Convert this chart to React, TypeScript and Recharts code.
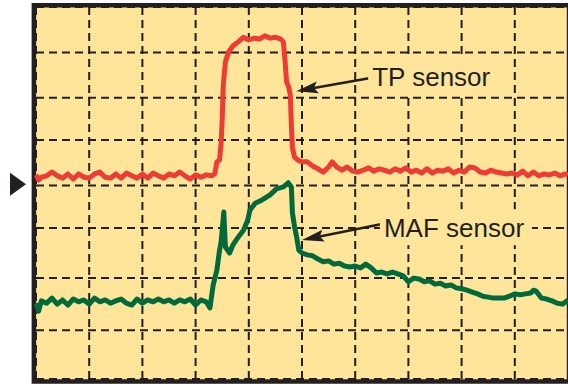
import { LineChart, Line, XAxis, YAxis, CartesianGrid, ReferenceArea, ReferenceLine, ReferenceDot } from 'recharts';

// scope screen: 10 time divisions across, 8 divisions up
const X_TICKS = [1, 2, 3, 4, 5, 6, 7, 8, 9];
const Y_TICKS = [1.05, 2.17, 3.25, 4.16, 5.14, 6.05, 7.02];

const RED_T = [
  0, 0.05, 0.1, 0.2, 0.3, 0.4, 0.5, 0.6, 0.7, 0.8, 0.9, 1.0, 1.1, 1.2, 1.3, 1.4, 1.5, 1.6, 1.7, 1.8, 1.9,
  2.0, 2.1, 2.2, 2.3, 2.4, 2.5, 2.6, 2.7, 2.8, 2.9, 3.0, 3.1, 3.2, 3.3, 3.36, 3.4, 3.45, 3.48, 3.5, 3.52,
  3.56, 3.62, 3.7, 3.8, 3.9, 4.0, 4.1, 4.2, 4.3, 4.4, 4.5, 4.6, 4.65, 4.68, 4.71, 4.75, 4.78, 4.8, 4.82,
  4.86, 4.92, 5.0, 5.1, 5.2, 5.3, 5.4, 5.5, 5.57, 5.65, 5.75, 5.85, 5.95, 6.05, 6.15, 6.25, 6.35, 6.45,
  6.55, 6.65, 6.75, 6.85, 6.95, 7.05, 7.15, 7.25, 7.35, 7.45, 7.55, 7.65, 7.75, 7.85, 7.95, 8.05, 8.15,
  8.25, 8.35, 8.45, 8.55, 8.65, 8.75, 8.85, 8.95, 9.05, 9.15, 9.25, 9.35, 9.45, 9.55, 9.65, 9.75, 9.85,
  9.95, 10.0,
];
const RED_V = [
  4.39, 4.28, 4.34, 4.37, 4.45, 4.37, 4.32, 4.41, 4.30, 4.41, 4.34, 4.32, 4.41, 4.45, 4.34, 4.32, 4.41, 4.32, 4.43, 4.37, 4.32,
  4.41, 4.32, 4.43, 4.37, 4.32, 4.41, 4.37, 4.45, 4.37, 4.30, 4.39, 4.34, 4.39, 4.37, 4.41, 4.67, 4.71, 5.08, 5.57, 6.32,
  6.82, 7.03, 7.16, 7.25, 7.35, 7.29, 7.33, 7.31, 7.38, 7.33, 7.35, 7.31, 7.25, 6.86, 6.39, 6.28, 6.11, 5.46, 4.97,
  4.77, 4.71, 4.67, 4.67, 4.58, 4.52, 4.45, 4.56, 4.67, 4.56, 4.49, 4.56, 4.47, 4.45, 4.49, 4.54, 4.47, 4.52,
  4.49, 4.45, 4.52, 4.47, 4.54, 4.45, 4.49, 4.43, 4.52, 4.43, 4.49, 4.47, 4.52, 4.43, 4.49, 4.45, 4.56,
  4.54, 4.45, 4.43, 4.49, 4.45, 4.43, 4.41, 4.43, 4.39, 4.47, 4.37, 4.45, 4.37, 4.41, 4.39, 4.43, 4.37,
  4.41, 4.39,
];

const GREEN_T = [
  0, 0.05, 0.1, 0.2, 0.3, 0.4, 0.5, 0.6, 0.7, 0.8, 0.9, 1.0, 1.1, 1.2, 1.3, 1.4, 1.5, 1.6, 1.7, 1.8, 1.9,
  2.0, 2.1, 2.2, 2.3, 2.4, 2.5, 2.6, 2.7, 2.8, 2.9, 3.0, 3.1, 3.2, 3.27, 3.33, 3.4, 3.45, 3.48, 3.53, 3.56,
  3.64, 3.7, 3.8, 3.9, 3.98, 4.02, 4.12, 4.25, 4.4, 4.52, 4.65, 4.74, 4.8, 4.82, 4.86, 4.9, 4.94, 5.0,
  5.1, 5.2, 5.3, 5.4, 5.5, 5.6, 5.7, 5.8, 5.9, 6.0, 6.1, 6.2, 6.3, 6.4, 6.5, 6.6, 6.7, 6.8, 6.9, 7.0,
  7.1, 7.2, 7.3, 7.4, 7.5, 7.6, 7.7, 7.8, 7.9, 8.0, 8.1, 8.2, 8.3, 8.4, 8.5, 8.6, 8.7, 8.8, 8.9, 9.0,
  9.1, 9.2, 9.3, 9.35, 9.4, 9.5, 9.6, 9.7, 9.8, 9.9, 10.0,
];
const GREEN_V = [
  1.63, 1.46, 1.68, 1.63, 1.74, 1.61, 1.70, 1.59, 1.72, 1.66, 1.70, 1.61, 1.74, 1.66, 1.70, 1.63, 1.68, 1.72, 1.63, 1.59, 1.72,
  1.63, 1.70, 1.66, 1.72, 1.66, 1.70, 1.63, 1.70, 1.66, 1.72, 1.59, 1.70, 1.66, 1.53, 2.02, 2.34, 2.77, 2.95, 3.59, 2.84,
  2.71, 2.88, 3.05, 3.20, 3.42, 3.63, 3.78, 3.85, 3.96, 4.09, 4.13, 4.22, 4.13, 3.57, 3.27, 3.05, 2.77, 2.71,
  2.67, 2.65, 2.58, 2.52, 2.54, 2.47, 2.49, 2.43, 2.41, 2.43, 2.39, 2.47, 2.39, 2.28, 2.30, 2.26, 2.30, 2.26, 2.22, 2.09,
  2.17, 2.15, 2.09, 2.11, 2.04, 2.06, 2.00, 2.02, 1.96, 1.94, 1.91, 1.87, 1.83, 1.78, 1.76, 1.74, 1.74, 1.74, 1.78, 1.83,
  1.81, 1.83, 1.85, 1.91, 1.89, 1.74, 1.72, 1.68, 1.63, 1.61, 1.70,
];

// annotations, in screen divisions
const TP_ARROW = [{ x: 6.26, y: 6.47 }, { x: 4.89, y: 6.19 }];
const TP_LABEL = { x: 6.32, y: 6.3, text: 'TP sensor', w: 122 };
const MAF_ARROW = [{ x: 6.48, y: 3.33 }, { x: 5.0, y: 2.99 }];
const MAF_LABEL = { x: 6.54, y: 3.05, text: 'MAF sensor', w: 144 };
const TRIGGER_LEVEL = 4.19;

const BG = '#fee59a';
const INK = '#231f20';
const RED = '#ee3b33';
const GREEN = '#006a3d';
const FONT = '"Liberation Sans", Arial, Helvetica, sans-serif';

const redData = RED_T.map((t, i) => ({ t, v: RED_V[i] }));
const greenData = GREEN_T.map((t, i) => ({ t, v: GREEN_V[i] }));

function Arrow(props: any) {
  const { x1, y1, x2, y2 } = props;
  const dx = x2 - x1;
  const dy = y2 - y1;
  const len = Math.sqrt(dx * dx + dy * dy);
  const ux = dx / len;
  const uy = dy / len;
  const head = 22;
  const half = 6;
  const bx = x2 - ux * head;
  const by = y2 - uy * head;
  const pts = `${x2},${y2} ${bx - uy * half},${by + ux * half} ${bx + ux * 4},${by + uy * 4} ${bx + uy * half},${by - ux * half}`;
  return (
    <g>
      <line x1={x1} y1={y1} x2={bx + ux * 4} y2={by + uy * 4} stroke={INK} strokeWidth={2.5} />
      <polygon points={pts} fill={INK} />
    </g>
  );
}

function makeLabel(text: string, w: number) {
  return (props: any) => {
    const { cx, cy } = props;
    return (
      <g>
        <rect x={cx - 4} y={cy - 28} width={w + 8} height={36} fill={BG} />
        <text x={cx} y={cy} fontFamily={FONT} fontSize={26} fill={INK}>{text}</text>
      </g>
    );
  };
}

function Trigger(props: any) {
  const { cx, cy } = props;
  return <polygon points={`${cx - 26},${cy - 11.5} ${cx - 10},${cy} ${cx - 26},${cy + 11.5}`} fill={INK} />;
}

export default function App() {
  return (
    <div style={{ position: 'absolute', left: 0, top: 0, width: 568, height: 384, background: '#fff' }}>
      <LineChart width={568} height={384} margin={{ top: 7, right: 0, bottom: 5, left: 36 }}>
        <XAxis dataKey="t" type="number" domain={[0, 10]} ticks={X_TICKS} hide />
        <YAxis type="number" domain={[0, 8]} ticks={Y_TICKS} hide />
        <CartesianGrid fill={BG} fillOpacity={1} stroke={INK} strokeWidth={2} strokeDasharray="8 5" />
        <ReferenceArea x1={-0.04} x2={10.02} y1={-0.055} y2={8.04} fill="none" stroke={INK} strokeWidth={4.5} ifOverflow="visible" />
        <Line data={redData} dataKey="v" type="linear" stroke={RED} strokeWidth={5} strokeLinejoin="round" dot={false} isAnimationActive={false} />
        <Line data={greenData} dataKey="v" type="linear" stroke={GREEN} strokeWidth={5} strokeLinejoin="round" dot={false} isAnimationActive={false} />
        <ReferenceDot x={TP_LABEL.x} y={TP_LABEL.y} ifOverflow="visible" shape={makeLabel(TP_LABEL.text, TP_LABEL.w)} />
        <ReferenceDot x={MAF_LABEL.x} y={MAF_LABEL.y} ifOverflow="visible" shape={makeLabel(MAF_LABEL.text, MAF_LABEL.w)} />
        <ReferenceLine segment={TP_ARROW} ifOverflow="visible" shape={Arrow} />
        <ReferenceLine segment={MAF_ARROW} ifOverflow="visible" shape={Arrow} />
        <ReferenceDot x={0} y={TRIGGER_LEVEL} ifOverflow="visible" shape={Trigger} />
      </LineChart>
    </div>
  );
}
